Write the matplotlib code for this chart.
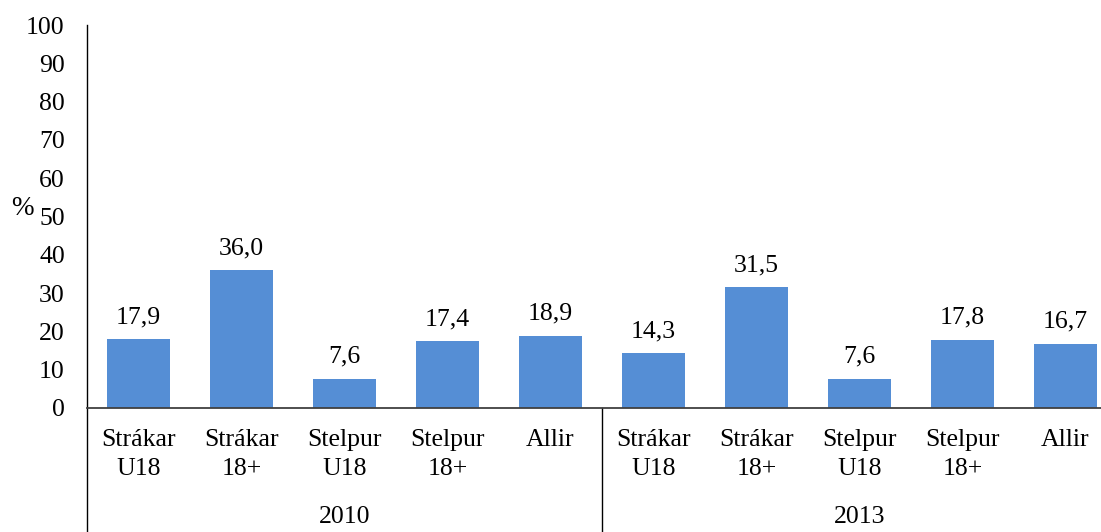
import matplotlib
matplotlib.use("Agg")
import matplotlib.pyplot as plt
import matplotlib.transforms as mtransforms

years = ["2010", "2013"]
categories = ["Strákar\nU18", "Strákar\n18+", "Stelpur\nU18", "Stelpur\n18+", "Allir"]
values_2010 = [17.9, 36.0, 7.6, 17.4, 18.9]
values_2013 = [14.3, 31.5, 7.6, 17.8, 16.7]
yticks = [0, 10, 20, 30, 40, 50, 60, 70, 80, 90, 100]

plt.rcParams['font.family'] = ['Liberation Serif', 'DejaVu Serif']
FS = 18.5
W, H = 1101, 532
fig = plt.figure(figsize=(W / 100, H / 100), dpi=100)
left_px, right_px, top_px, bottom_px = 87, 1117, 25, 408
ax = fig.add_axes([left_px / W, 1 - bottom_px / H, (right_px - left_px) / W, (bottom_px - top_px) / H])

vals = values_2010 + values_2013
labels = categories + categories
x = list(range(len(vals)))
ax.bar(x, vals, width=0.62, color='#558ED5', zorder=2)
for xi, v in zip(x, vals):
    ax.annotate(f"{v:.1f}".replace('.', ','), (xi, v), xytext=(0, 8), textcoords='offset points',
                ha='center', va='bottom', fontsize=FS, color='black')

ax.set_xlim(-0.5, len(vals) - 0.5)
ax.set_ylim(0, 100)
ax.set_yticks(yticks)
ax.set_yticklabels([str(t) for t in yticks], fontsize=FS)
ax.tick_params(axis='y', length=0, pad=16)
ax.set_xticks(x)
ax.set_xticklabels(labels, fontsize=FS, linespacing=1.45)
ax.tick_params(axis='x', length=0, pad=15)

for s in ['top', 'right']:
    ax.spines[s].set_visible(False)
ax.spines['bottom'].set_color('#404040')
ax.spines['bottom'].set_linewidth(1.3)
ax.spines['bottom'].set_zorder(3)
ax.spines['left'].set_visible(False)

trans = mtransforms.blended_transform_factory(ax.transData, ax.transAxes)
yb = -(H - bottom_px) / (bottom_px - top_px)
for xs in [-0.5, 4.5]:
    top = 1.0 if xs == -0.5 else 0.0
    ax.plot([xs, xs], [yb - 0.01, top], transform=trans, color='black', lw=1.0, clip_on=False)

ax.text(2, -109 / (bottom_px - top_px), years[0], transform=trans, ha='center', va='center', fontsize=FS)
ax.text(7, -109 / (bottom_px - top_px), years[1], transform=trans, ha='center', va='center', fontsize=FS)

fig.text(22 / W, 1 - 209 / H, "%", ha='center', va='center', fontsize=FS + 1)

fig.savefig("out.png", dpi=100)
